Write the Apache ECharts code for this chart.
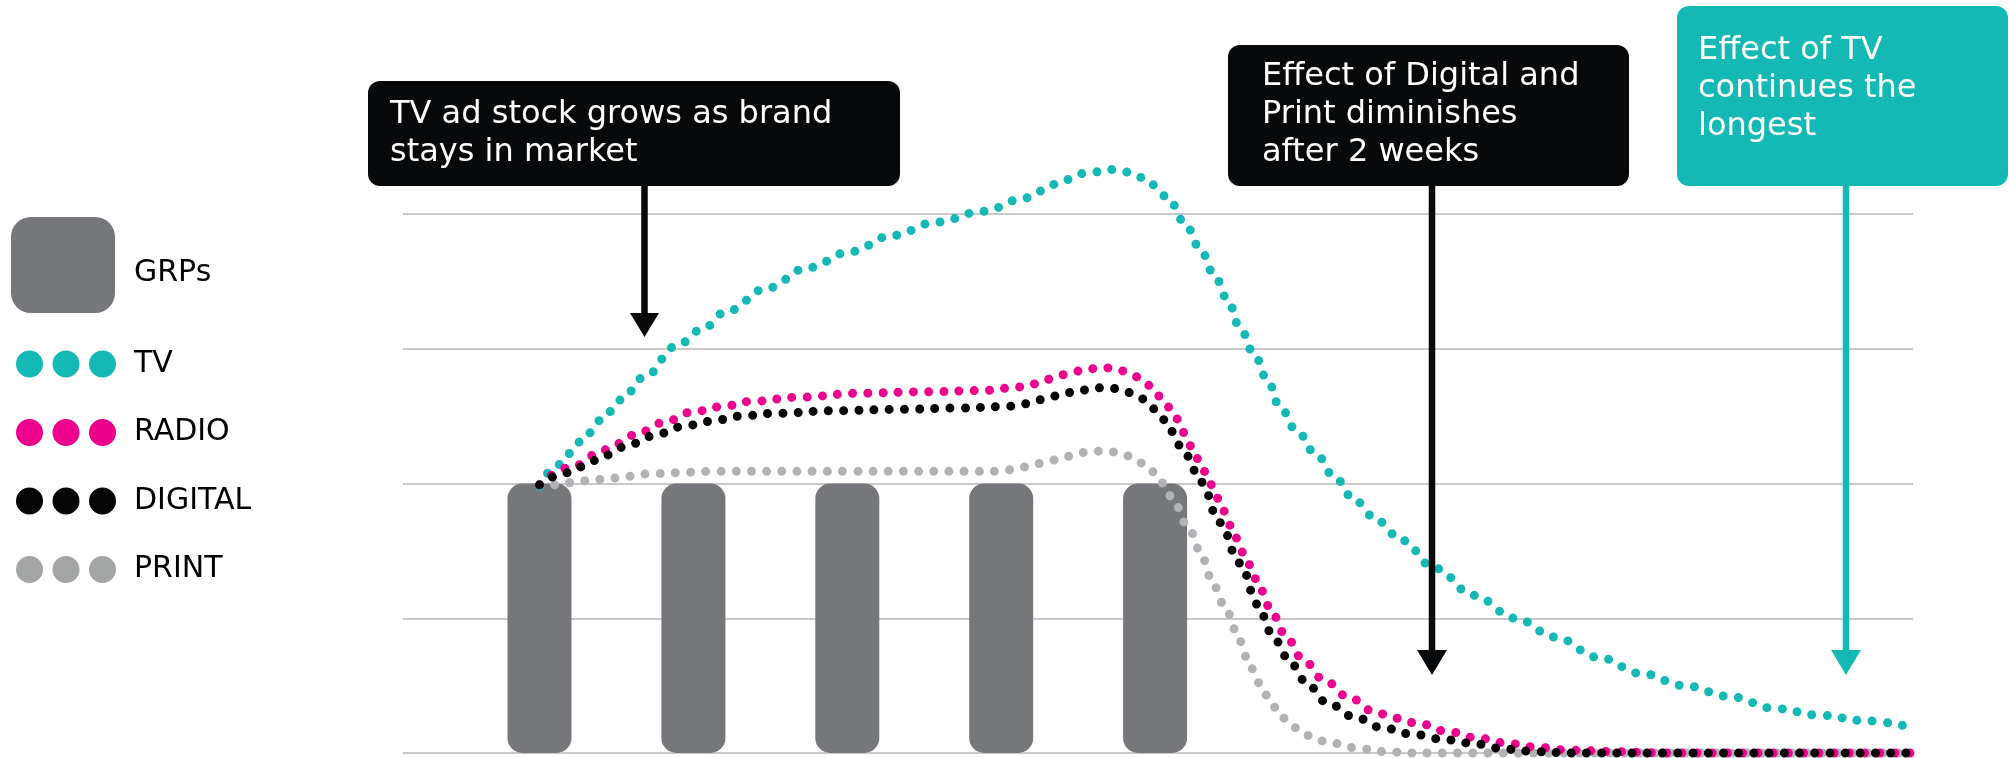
<!DOCTYPE html>
<html>
<head>
<meta charset="utf-8">
<script src="https://cdn.jsdelivr.net/npm/echarts@6/dist/echarts.min.js"></script>
<style>
  html, body { margin: 0; padding: 0; background: #ffffff; }
  #chart { width: 2009px; height: 758px; }
</style>
</head>
<body>
<div id="chart"></div>
<script>
// ---- data (x in weeks from first flight, y in relative effect units) ----
var grpWeeks = [0, 1, 2, 3, 4];
var grpValues = [2, 2, 2, 2, 2];

var tvPoints = [[0,1.98],[0.12,2.14],[0.27,2.31],[0.40,2.47],[0.53,2.62],[0.68,2.79],[0.89,3.02],[1.05,3.14],[1.22,3.28],[1.48,3.45],[1.74,3.60],[2.02,3.72],[2.29,3.84],[2.58,3.94],[2.88,4.02],[3.16,4.12],[3.35,4.22],[3.53,4.30],[3.73,4.33],[3.83,4.31],[3.92,4.27],[4.08,4.13],[4.19,3.94],[4.29,3.75],[4.38,3.56],[4.47,3.37],[4.55,3.16],[4.64,2.97],[4.73,2.77],[4.81,2.57],[4.92,2.39],[5.05,2.21],[5.17,2.04],[5.30,1.87],[5.45,1.72],[5.60,1.58],[5.82,1.37],[6.07,1.17],[6.34,1.00],[6.60,0.86],[6.88,0.71],[7.16,0.59],[7.44,0.50],[7.73,0.42],[8.03,0.33],[8.32,0.28],[8.61,0.24],[8.92,0.19]];

var radioPoints = [[0,1.99],[0.2,2.12],[0.43,2.25],[0.62,2.36],[0.80,2.45],[0.99,2.53],[1.18,2.57],[1.38,2.61],[1.68,2.64],[2.08,2.67],[2.48,2.68],[2.88,2.69],[3.08,2.71],[3.18,2.73],[3.29,2.77],[3.37,2.80],[3.47,2.83],[3.56,2.85],[3.67,2.86],[3.77,2.84],[3.86,2.80],[3.94,2.74],[4.02,2.65],[4.08,2.57],[4.14,2.48],[4.23,2.28],[4.32,2.09],[4.41,1.89],[4.49,1.69],[4.57,1.49],[4.66,1.29],[4.74,1.09],[4.84,0.89],[4.95,0.71],[5.09,0.55],[5.25,0.42],[5.42,0.31],[5.55,0.26],[5.71,0.22],[5.90,0.16],[6.10,0.11],[6.30,0.07],[6.50,0.04],[6.70,0.02],[7.00,0.01],[7.3,0],[8.92,0]];

var digitalPoints = [[0,1.99],[0.18,2.08],[0.36,2.17],[0.55,2.27],[0.73,2.35],[0.92,2.42],[1.10,2.46],[1.31,2.50],[1.51,2.52],[1.92,2.54],[2.32,2.55],[2.72,2.56],[3.02,2.57],[3.12,2.58],[3.21,2.61],[3.31,2.64],[3.41,2.67],[3.51,2.69],[3.61,2.71],[3.71,2.71],[3.81,2.68],[3.90,2.64],[3.97,2.57],[4.04,2.49],[4.10,2.39],[4.20,2.21],[4.30,2.01],[4.42,1.71],[4.55,1.41],[4.67,1.10],[4.75,0.90],[4.86,0.71],[4.97,0.54],[5.11,0.38],[5.29,0.27],[5.47,0.19],[5.67,0.14],[5.88,0.10],[6.07,0.07],[6.27,0.03],[6.47,0.01],[6.7,0],[8.92,0]];

var printPoints = [[0,1.98],[0.10,1.99],[0.29,2.02],[0.49,2.04],[0.69,2.07],[0.89,2.08],[1.09,2.09],[2.0,2.09],[3.0,2.09],[3.10,2.11],[3.19,2.13],[3.29,2.16],[3.40,2.19],[3.49,2.22],[3.58,2.24],[3.69,2.24],[3.79,2.22],[3.88,2.17],[3.96,2.11],[4.03,2.03],[4.08,1.93],[4.13,1.84],[4.23,1.64],[4.31,1.44],[4.38,1.24],[4.47,1.04],[4.55,0.83],[4.62,0.63],[4.72,0.43],[4.83,0.26],[4.90,0.19],[4.99,0.13],[5.08,0.09],[5.18,0.07],[5.29,0.04],[5.49,0.01],[5.68,0],[8.92,0]];

var yTicks = [0, 1, 2, 3, 4];
var legendLines = ['TV', 'RADIO', 'DIGITAL', 'PRINT'];
var barLegend = 'GRPs';
var notes = [
  'TV ad stock grows as brand\nstays in market',
  'Effect of Digital and\nPrint diminishes\nafter 2 weeks',
  'Effect of TV\ncontinues the\nlongest'
];

// ---- styling ----
var C = { tv: '#14b9b5', radio: '#ec008c', digital: '#050505', print: '#b0b2b5', printLegend: '#a3a5a4', bar: '#76777b', grid: '#c9c9c9' };
var FONT = 'DejaVu Sans';
var dotsIcon = 'path://M0,13.5a13.5,13.5 0 1,0 27,0a13.5,13.5 0 1,0 -27,0Z M36.5,13.5a13.5,13.5 0 1,0 27,0a13.5,13.5 0 1,0 -27,0Z M73,13.5a13.5,13.5 0 1,0 27,0a13.5,13.5 0 1,0 -27,0Z';

function dotted(name, pts, color) {
  return {
    name: name, type: 'line', data: pts, showSymbol: false, clip: false,
    smooth: 0.4, smoothMonotone: 'x', z: 3,
    lineStyle: { color: color, width: 9, type: [0, 15.2], cap: 'round' },
    itemStyle: { color: color },
    emphasis: { disabled: true }
  };
}

var chart = echarts.init(document.getElementById('chart'), null, { renderer: 'canvas' });
var legendColors = { TV: C.tv, RADIO: C.radio, DIGITAL: C.digital, PRINT: C.printLegend };

chart.setOption({
  animation: false,
  backgroundColor: '#ffffff',
  textStyle: { fontFamily: FONT },
  grid: { left: 403, right: 96, top: 214, bottom: 5, containLabel: false },
  xAxis: {
    type: 'value', min: -0.887, max: 8.925,
    axisLine: { show: false }, axisTick: { show: false }, axisLabel: { show: false }, splitLine: { show: false }
  },
  yAxis: {
    type: 'value', min: yTicks[0], max: yTicks[yTicks.length - 1], interval: 1,
    axisLine: { show: false }, axisTick: { show: false }, axisLabel: { show: false },
    splitLine: { show: true, lineStyle: { color: C.grid, width: 2 } }
  },
  legend: {
    data: legendLines.map(function (n) { return { name: n, icon: dotsIcon, itemStyle: { color: legendColors[n] } }; }),
    orient: 'vertical', left: 16, top: 349, padding: 0,
    itemWidth: 100, itemHeight: 27, itemGap: 38.5, selectedMode: false,
    textStyle: { fontSize: 30, fontFamily: FONT, color: '#000', lineHeight: 27, padding: [0, 0, 0, 13] }
  },
  series: [
    {
      name: barLegend, type: 'bar', z: 2,
      data: grpWeeks.map(function (w, i) { return [w, grpValues[i]]; }),
      barWidth: 64,
      itemStyle: { color: C.bar, borderRadius: 15 },
      emphasis: { disabled: true }
    },
    dotted('PRINT', printPoints, C.print),
    dotted('TV', tvPoints, C.tv),
    dotted('RADIO', radioPoints, C.radio),
    dotted('DIGITAL', digitalPoints, C.digital)
  ],
  graphic: [
    // GRPs legend entry
    { type: 'rect', shape: { x: 11, y: 217, width: 104, height: 96, r: 20 }, style: { fill: C.bar }, z: 10 },
    { type: 'text', x: 134, y: 273.5, z: 11, style: { text: barLegend, fill: '#000', font: '30px "DejaVu Sans"', verticalAlign: 'middle' } },

    { type: 'rect', shape: { x: 368, y: 81, width: 532, height: 105, r: 12 }, style: { fill: '#08090a' }, z: 10 },
    { type: 'text', x: 390, y: 96, z: 11, style: { text: notes[0], fill: '#ffffff', font: '32px "DejaVu Sans"', lineHeight: 38, verticalAlign: 'top' } },
    { type: 'line', shape: { x1: 644.5, y1: 186, x2: 644.5, y2: 318 }, style: { stroke: '#08090a', lineWidth: 6.5 }, z: 10 },
    { type: 'polygon', shape: { points: [[630, 313], [659, 313], [644.5, 337]] }, style: { fill: '#08090a' }, z: 10 },

    { type: 'rect', shape: { x: 1228, y: 45, width: 401, height: 141, r: 12 }, style: { fill: '#08090a' }, z: 10 },
    { type: 'text', x: 1262, y: 58, z: 11, style: { text: notes[1], fill: '#ffffff', font: '32px "DejaVu Sans"', lineHeight: 38, verticalAlign: 'top' } },
    { type: 'line', shape: { x1: 1432, y1: 186, x2: 1432, y2: 655 }, style: { stroke: '#08090a', lineWidth: 6.5 }, z: 10 },
    { type: 'polygon', shape: { points: [[1417, 650], [1447, 650], [1432, 675]] }, style: { fill: '#08090a' }, z: 10 },

    { type: 'rect', shape: { x: 1677, y: 6, width: 331, height: 180, r: 12 }, style: { fill: C.tv }, z: 10 },
    { type: 'text', x: 1698, y: 32, z: 11, style: { text: notes[2], fill: '#ffffff', font: '32px "DejaVu Sans"', lineHeight: 38, verticalAlign: 'top' } },
    { type: 'line', shape: { x1: 1846, y1: 186, x2: 1846, y2: 655 }, style: { stroke: C.tv, lineWidth: 6.5 }, z: 10 },
    { type: 'polygon', shape: { points: [[1831, 650], [1861, 650], [1846, 675]] }, style: { fill: C.tv }, z: 10 }
  ]
});
</script>
</body>
</html>
